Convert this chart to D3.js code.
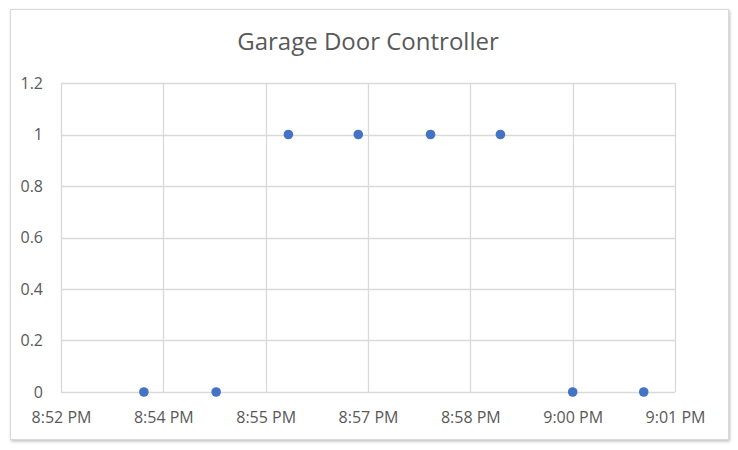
<!DOCTYPE html>
<html>
<head>
<meta charset="utf-8">
<script src="https://cdn.jsdelivr.net/npm/d3@7"></script>
<style>
  body { margin: 0; background: #ffffff; }
  svg { display: block; font-family: "Open Sans", "Liberation Sans", sans-serif; }
</style>
</head>
<body>
<svg id="chart" width="738" height="450"></svg>
<script>
// ===== DATA =====
const chartTitle = "Garage Door Controller";
const times = ["20:53:58", "20:54:59", "20:56:00", "20:56:59", "20:58:00", "20:58:59", "21:00:00", "21:01:00"];
const doorState = [0, 0, 1, 1, 1, 1, 0, 0];
// x ticks are Excel day fractions, step 0.001 day
const xTicks = [0.870, 0.871, 0.872, 0.873, 0.874, 0.875, 0.876];
const xTickLabels = ["8:52 PM", "8:54 PM", "8:55 PM", "8:57 PM", "8:58 PM", "9:00 PM", "9:01 PM"];
const yTicks = [0, 0.2, 0.4, 0.6, 0.8, 1, 1.2];

// time string -> fraction of a day
function toDay(t) {
  const [h, m, s] = t.split(":").map(Number);
  return (h * 3600 + m * 60 + s) / 86400;
}
const points = times.map((t, i) => ({ x: toDay(t), y: doorState[i] }));

// ===== LAYOUT =====
const svg = d3.select("#chart");
const plot = { left: 61, right: 675, top: 83, bottom: 392 };

const x = d3.scaleLinear()
  .domain([xTicks[0], xTicks[xTicks.length - 1]])
  .range([plot.left, plot.right]);

const y = d3.scaleLinear()
  .domain([0, 1.2])
  .range([plot.bottom, plot.top]);

// chart frame with soft shadow
const defs = svg.append("defs");
const f = defs.append("filter").attr("id", "shadow")
  .attr("x", "-5%").attr("y", "-5%").attr("width", "110%").attr("height", "110%");
f.append("feDropShadow")
  .attr("dx", 1).attr("dy", 1.5).attr("stdDeviation", 1.5)
  .attr("flood-color", "#000").attr("flood-opacity", 0.25);

svg.append("rect")
  .attr("x", 10.5).attr("y", 9.5)
  .attr("width", 718).attr("height", 430)
  .attr("fill", "#ffffff")
  .attr("stroke", "#d9d9d9")
  .attr("filter", "url(#shadow)");

// title
svg.append("text")
  .attr("x", 368).attr("y", 50)
  .attr("text-anchor", "middle")
  .attr("font-size", 24)
  .attr("fill", "#595959")
  .text(chartTitle);

// vertical gridlines
svg.append("g")
  .selectAll("line")
  .data(xTicks)
  .join("line")
  .attr("x1", d => Math.round(x(d)) + 0.5)
  .attr("x2", d => Math.round(x(d)) + 0.5)
  .attr("y1", plot.top)
  .attr("y2", plot.bottom)
  .attr("stroke", "#d9d9d9")
  .attr("stroke-width", 1.3);

// horizontal gridlines
svg.append("g")
  .selectAll("line")
  .data(yTicks)
  .join("line")
  .attr("x1", plot.left)
  .attr("x2", plot.right)
  .attr("y1", d => Math.round(y(d)) + 0.5)
  .attr("y2", d => Math.round(y(d)) + 0.5)
  .attr("stroke", "#d9d9d9")
  .attr("stroke-width", 1.3);

// y axis labels
const yAxis = svg.append("g")
  .attr("transform", `translate(${plot.left - 18},0)`)
  .call(d3.axisLeft(y).tickValues(yTicks).tickSize(0).tickPadding(0).tickFormat(d3.format("~g")));
yAxis.select(".domain").remove();
yAxis.selectAll("text")
  .attr("font-size", 16)
  .attr("font-family", "'Open Sans', sans-serif")
  .attr("fill", "#595959");

// x axis labels
const xAxis = svg.append("g")
  .attr("transform", `translate(0,${plot.bottom + 20})`)
  .call(d3.axisBottom(x).tickValues(xTicks).tickSize(0).tickPadding(0)
    .tickFormat((d, i) => xTickLabels[i]));
xAxis.select(".domain").remove();
xAxis.selectAll("text")
  .attr("font-size", 16)
  .attr("font-family", "'Open Sans', sans-serif")
  .attr("fill", "#595959");

// markers
svg.append("g")
  .selectAll("circle")
  .data(points)
  .join("circle")
  .attr("cx", d => x(d.x))
  .attr("cy", d => y(d.y))
  .attr("r", 4.8)
  .attr("fill", "#4472c4");
</script>
</body>
</html>
